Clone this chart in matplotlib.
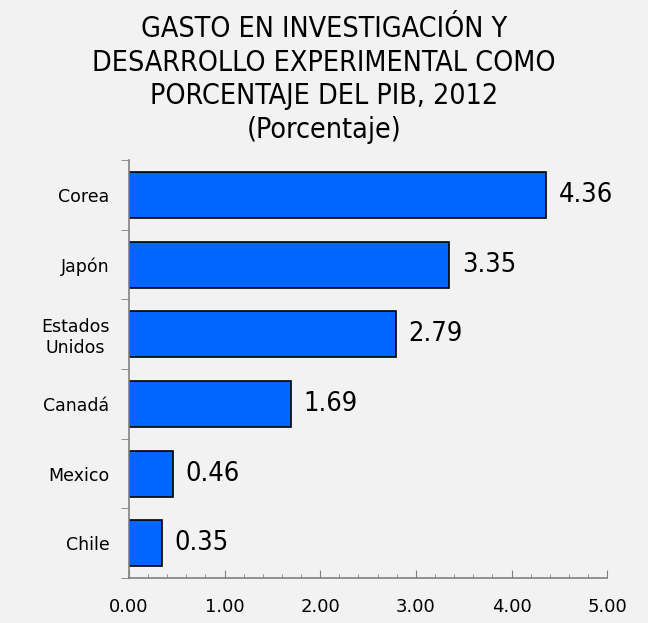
import matplotlib.pyplot as plt
from matplotlib.ticker import MultipleLocator, FixedLocator, NullFormatter

paises = ['Chile', 'Mexico', 'Canadá', 'Estados\nUnidos', 'Japón', 'Corea']
gasto = [0.35, 0.46, 1.69, 2.79, 3.35, 4.36]
xticks = [0, 1, 2, 3, 4, 5]
xtick_labels = ['0.00', '1.00', '2.00', '3.00', '4.00', '5.00']

plt.rcParams['font.family'] = ['DejaVu Sans']
bg = '#f2f2f2'

fig = plt.figure(figsize=(6.48, 6.23), dpi=100, facecolor=bg)
ax = fig.add_axes([0.199, 0.072, 0.738, 0.671], facecolor=bg)

pos = list(range(len(paises)))
ax.barh(pos, gasto, height=0.66, color='#0066ff', edgecolor='black', linewidth=1.2)

for p, v in zip(pos, gasto):
    ax.text(v + 0.13, p, '%.2f' % v, va='center', ha='left', fontsize=19.5, fontstretch='condensed')

ax.set_xlim(0, 5)
ax.set_ylim(-0.5, len(paises) - 0.5)

ax.set_xticks(xticks)
ax.set_xticklabels(xtick_labels, fontsize=13)
ax.xaxis.set_minor_locator(MultipleLocator(0.2))
ax.tick_params(axis='x', which='major', direction='in', length=6, color='#808080', pad=14)
ax.tick_params(axis='x', which='minor', direction='in', length=3, color='#808080')

ax.set_yticks(pos)
ax.set_yticklabels(paises, fontsize=12.5, multialignment='center')
ax.tick_params(axis='y', which='major', length=0, pad=14)
ax.yaxis.set_minor_locator(FixedLocator([i - 0.5 for i in range(len(paises) + 1)]))
ax.yaxis.set_minor_formatter(NullFormatter())
ax.tick_params(axis='y', which='minor', direction='out', length=6, color='#808080')

for s in ['top', 'right']:
    ax.spines[s].set_visible(False)
for s in ['left', 'bottom']:
    ax.spines[s].set_color('#808080')
    ax.spines[s].set_linewidth(1.2)

fig.text(0.5, 0.976, 'GASTO EN INVESTIGACIÓN Y\nDESARROLLO EXPERIMENTAL COMO\nPORCENTAJE DEL PIB, 2012\n(Porcentaje)',
         ha='center', va='top', fontsize=20.5, linespacing=1.26, fontstretch='condensed')

fig.savefig('out.png', dpi=100, facecolor=bg)
